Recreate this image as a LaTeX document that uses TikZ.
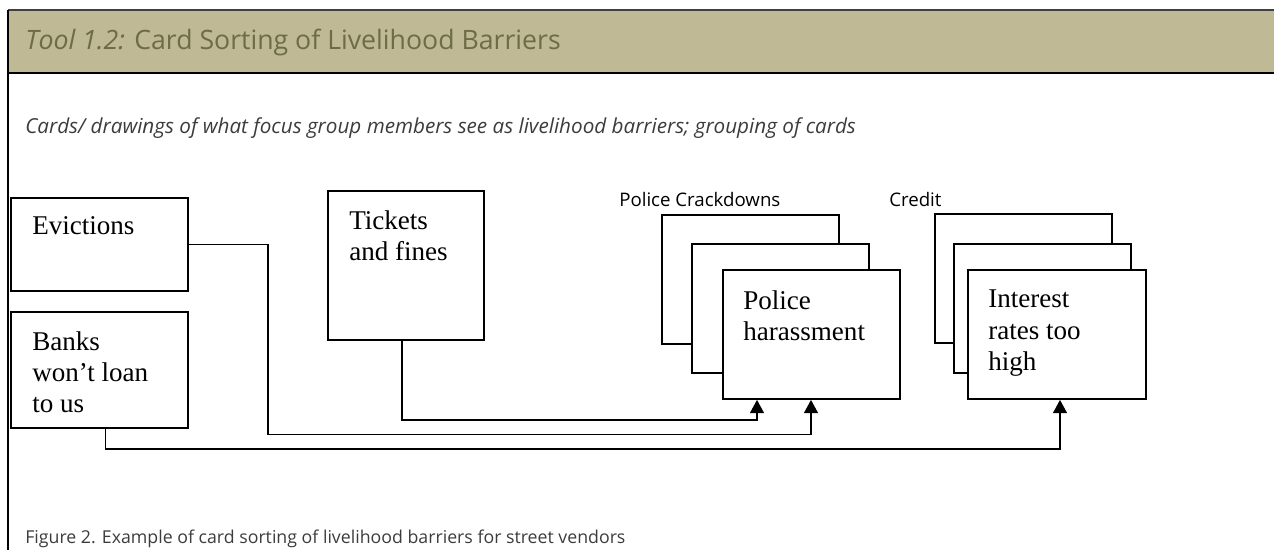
\documentclass[tikz,border=0pt]{standalone}
\usepackage{fontspec}
\setmainfont{Liberation Serif}
\newfontfamily\uifont{Open Sans}
\usetikzlibrary{arrows.meta}
\definecolor{bandfill}{RGB}{191,185,149}
\definecolor{bandtext}{RGB}{110,108,72}
\definecolor{captext}{RGB}{60,60,60}

\begin{document}
\begin{tikzpicture}[x=0.75pt,y=-0.75pt,
    card/.style 2 args={draw, fill=white, line width=1.4pt, anchor=north west,
                        minimum width=#1*0.75pt, minimum height=#2*0.75pt, inner sep=0pt},
    cardtext/.style={anchor=north west, inner sep=0pt, align=left,
                     font=\fontsize{20.3}{23.3}\selectfont},
    group/.style={anchor=base west, inner sep=0pt, font=\uifont\fontsize{14}{16}\selectfont},
    link/.style={line width=1.1pt, -{Triangle[width=10.5pt,length=10pt]}},
  ]
  \useasboundingbox (0,0) rectangle (1274,550);
  % header band and page frame
  \fill[bandfill] (8,10) rectangle (1274,73);
  \draw[line width=1.2pt, black!75] (8,10) -- (1274,10);
  \draw[line width=1.2pt] (8,73) -- (1274,73);
  \draw[line width=0.9pt] (8,10) -- (8,550);
  \node[anchor=base west, inner sep=0pt, text=bandtext, font=\uifont\fontsize{20}{24}\selectfont]
    (title) at (25,49) {\textit{Tool 1.2:} Card Sorting of Livelihood Barriers};
  \node[anchor=base west, inner sep=0pt, text=captext, font=\uifont\itshape\fontsize{15.5}{18}\selectfont]
    (sub) at (25,133) {Cards/ drawings of what focus group members see as livelihood barriers; grouping of cards};
  \node[anchor=base west, inner sep=0pt, text=captext, font=\uifont\fontsize{13.3}{16}\selectfont]
    (cap) at (25,543) {Figure 2. Example of card sorting of livelihood barriers for street vendors};

  % single cards
  \node[card={177}{93}]  (evict)   at (10,197) {};
  \node[card={177}{116}] (banks)   at (10,311) {};
  \node[card={156}{149}] (tickets) at (327,190) {};
  \node[cardtext] (evictT)   at (32,216)  {Evictions};
  \node[cardtext] (banksT)   at (32,331)  {Banks\\won’t loan\\to us};
  \node[cardtext] (ticketsT) at (349,210) {Tickets\\and fines};

  % police crackdowns group
  \node[group] (pcLabel) at (619,206) {Police Crackdowns};
  \node[card={177}{129}] (police3) at (661,214) {};
  \node[card={177}{129}] (police2) at (691,243) {};
  \node[card={177}{129}] (police)  at (722,269) {};
  \node[cardtext] (policeT) at (743,290) {Police\\harassment};

  % credit group
  \node[group] (crLabel) at (889,206) {Credit};
  \node[card={177}{129}] (credit3) at (934,213) {};
  \node[card={177}{129}] (credit2) at (953,243) {};
  \node[card={178}{129}] (credit)  at (967,269) {};
  \node[cardtext] (creditT) at (988,290) {Interest\\rates too\\high};

  % arrow ends on the front cards
  \coordinate (ph1) at ([xshift=35*0.75pt]police.south west);
  \coordinate (ph2) at ([xshift=89*0.75pt]police.south west);
  \coordinate (cr1) at ([xshift=93*0.75pt]credit.south west);

  \draw[link] ([xshift=-4*0.75pt]tickets.south) -- ++(0,79) -| (ph1);
  \draw[link] (evict.east) -| ++(79,190) -| (ph2);
  \draw[link] ([xshift=6*0.75pt]banks.south) -- ++(0,20) -| (cr1);
\end{tikzpicture}
\end{document}
